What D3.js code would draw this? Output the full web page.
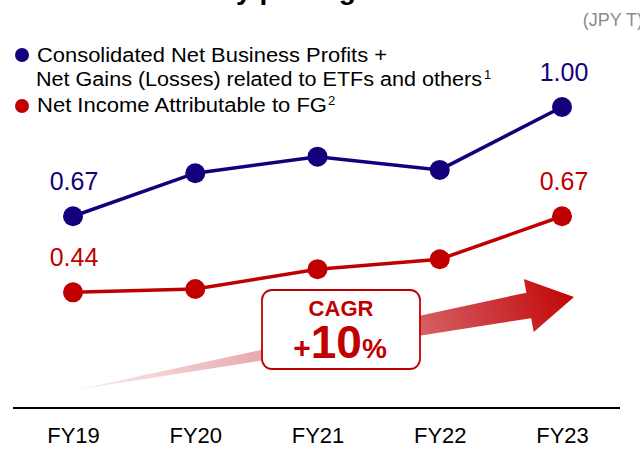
<!DOCTYPE html>
<html>
<head>
<meta charset="utf-8">
<script src="https://cdn.jsdelivr.net/npm/d3@7"></script>
<style>
  body { margin: 0; background: #fff; }
  svg { display: block; font-family: Arial, "Liberation Sans", sans-serif; }
</style>
</head>
<body>
<div id="chart"></div>
<script>
var w = 640;
var h = 451;

// data (JPY T)
var years = ["FY19", "FY20", "FY21", "FY22", "FY23"];
var businessProfits = [0.67, 0.80, 0.85, 0.81, 1.00];
var netIncome = [0.44, 0.45, 0.51, 0.54, 0.67];
var shownLabels = [0, 4]; // only first and last points are labelled
var cagrText = "CAGR";
var cagrValue = "10";

var blue = "#14007a";
var red = "#c00000";

var svg = d3.select("#chart").append("svg")
    .attr("width", w)
    .attr("height", h);

var x = d3.scalePoint().domain(years).range([73, 562]);
var y = d3.scaleLinear().domain([0, 1]).range([438, 107]);
var axisY = 408;

// title, cut off at the top of the picture
svg.append("text")
    .attr("x", 296).attr("y", -1)
    .attr("text-anchor", "middle")
    .attr("font-size", 28).attr("font-weight", "bold")
    .text("Steady profit growth");

svg.append("text")
    .attr("x", 643).attr("y", 26)
    .attr("text-anchor", "end")
    .attr("font-size", 18).attr("fill", "#8c8c8c")
    .text("(JPY T)");

// legend (text in the picture is a bit wider than plain Arial)
var legend = svg.append("g").attr("font-size", 20).attr("fill", "#000");
legend.append("circle").attr("cx", 22).attr("cy", 55).attr("r", 7).attr("fill", blue);
legend.append("text").attr("x", 37).attr("y", 62)
    .attr("textLength", 350).attr("lengthAdjust", "spacingAndGlyphs")
    .text("Consolidated Net Business Profits +");
legend.append("text").attr("x", 36).attr("y", 86)
    .attr("textLength", 446).attr("lengthAdjust", "spacingAndGlyphs")
    .text("Net Gains (Losses) related to ETFs and others");
legend.append("text").attr("x", 484).attr("y", 79)
    .attr("font-size", 13).text("1");
legend.append("circle").attr("cx", 22).attr("cy", 106).attr("r", 7).attr("fill", red);
legend.append("text").attr("x", 37).attr("y", 112)
    .attr("textLength", 290).attr("lengthAdjust", "spacingAndGlyphs")
    .text("Net Income Attributable to FG");
legend.append("text").attr("x", 328).attr("y", 105)
    .attr("font-size", 13).text("2");

// CAGR arrow, gradient fill
var defs = svg.append("defs");
var x0 = x("FY19") + 2, y0 = 390;
var x1 = x("FY23") + 12, y1 = 297;
var grad = defs.append("linearGradient")
    .attr("id", "arrowGrad")
    .attr("gradientUnits", "userSpaceOnUse")
    .attr("x1", x0).attr("y1", y0).attr("x2", x1).attr("y2", y1);
grad.append("stop").attr("offset", "0%").attr("stop-color", "#fcf0f1");
grad.append("stop").attr("offset", "55%").attr("stop-color", "#dd858c");
grad.append("stop").attr("offset", "100%").attr("stop-color", "#c00000");

var len = Math.hypot(x1 - x0, y1 - y0);
var ang = Math.atan2(y1 - y0, x1 - x0) * 180 / Math.PI;
var headLen = 46, shaftHalf = 13, headHalf = 27;
svg.append("path")
    .attr("transform", "translate(" + x0 + "," + y0 + ") rotate(" + ang + ")")
    .attr("d", d3.line()([
        [0, 0],
        [len - headLen, -shaftHalf],
        [len - headLen, -headHalf],
        [len, 0],
        [len - headLen, headHalf],
        [len - headLen, shaftHalf]
    ]) + "Z")
    .attr("fill", "url(#arrowGrad)");

// CAGR box
var box = svg.append("g");
box.append("rect")
    .attr("x", 262).attr("y", 290).attr("width", 158).attr("height", 79)
    .attr("rx", 10)
    .attr("fill", "#fff").attr("stroke", red).attr("stroke-width", 1.8);
box.append("text")
    .attr("x", 341).attr("y", 316)
    .attr("text-anchor", "middle")
    .attr("font-size", 22).attr("font-weight", "bold").attr("fill", red)
    .text(cagrText);
var big = box.append("text")
    .attr("x", 340).attr("y", 358)
    .attr("text-anchor", "middle")
    .attr("font-weight", "bold").attr("fill", red);
big.append("tspan").attr("font-size", 30).text("+");
big.append("tspan").attr("font-size", 46).text(cagrValue);
big.append("tspan").attr("font-size", 28).text("%");

// axis line and category labels
svg.append("line")
    .attr("x1", 13).attr("x2", 620)
    .attr("y1", axisY).attr("y2", axisY)
    .attr("stroke", "#000").attr("stroke-width", 2);

var xAxis = svg.append("g")
    .attr("transform", "translate(0," + (axisY + 35) + ")")
    .call(d3.axisBottom(x).tickSize(0).tickPadding(0));
xAxis.select(".domain").remove();
xAxis.selectAll("text")
    .attr("dy", 0)
    .attr("font-size", 22)
    .attr("font-family", "Arial, 'Liberation Sans', sans-serif")
    .attr("fill", "#000");

// series
var series = [
    { values: businessProfits, color: blue },
    { values: netIncome, color: red }
];
var line = d3.line()
    .x(function(d, i) { return x(years[i]); })
    .y(function(d) { return y(d); });

series.forEach(function(s) {
    svg.append("path")
        .attr("d", line(s.values))
        .attr("fill", "none")
        .attr("stroke", s.color)
        .attr("stroke-width", 3.5);
    svg.selectAll(null)
        .data(s.values)
        .enter()
        .append("circle")
        .attr("cx", function(d, i) { return x(years[i]); })
        .attr("cy", function(d) { return y(d); })
        .attr("r", 10)
        .attr("fill", s.color);
    svg.selectAll(null)
        .data(shownLabels)
        .enter()
        .append("text")
        .attr("x", function(i) { return x(years[i]) + (i == 0 ? 1 : 2); })
        .attr("y", function(i) { return y(s.values[i]) - 26; })
        .attr("text-anchor", "middle")
        .attr("font-size", 25)
        .attr("fill", s.color)
        .text(function(i) { return s.values[i].toFixed(2); });
});
</script>
</body>
</html>
